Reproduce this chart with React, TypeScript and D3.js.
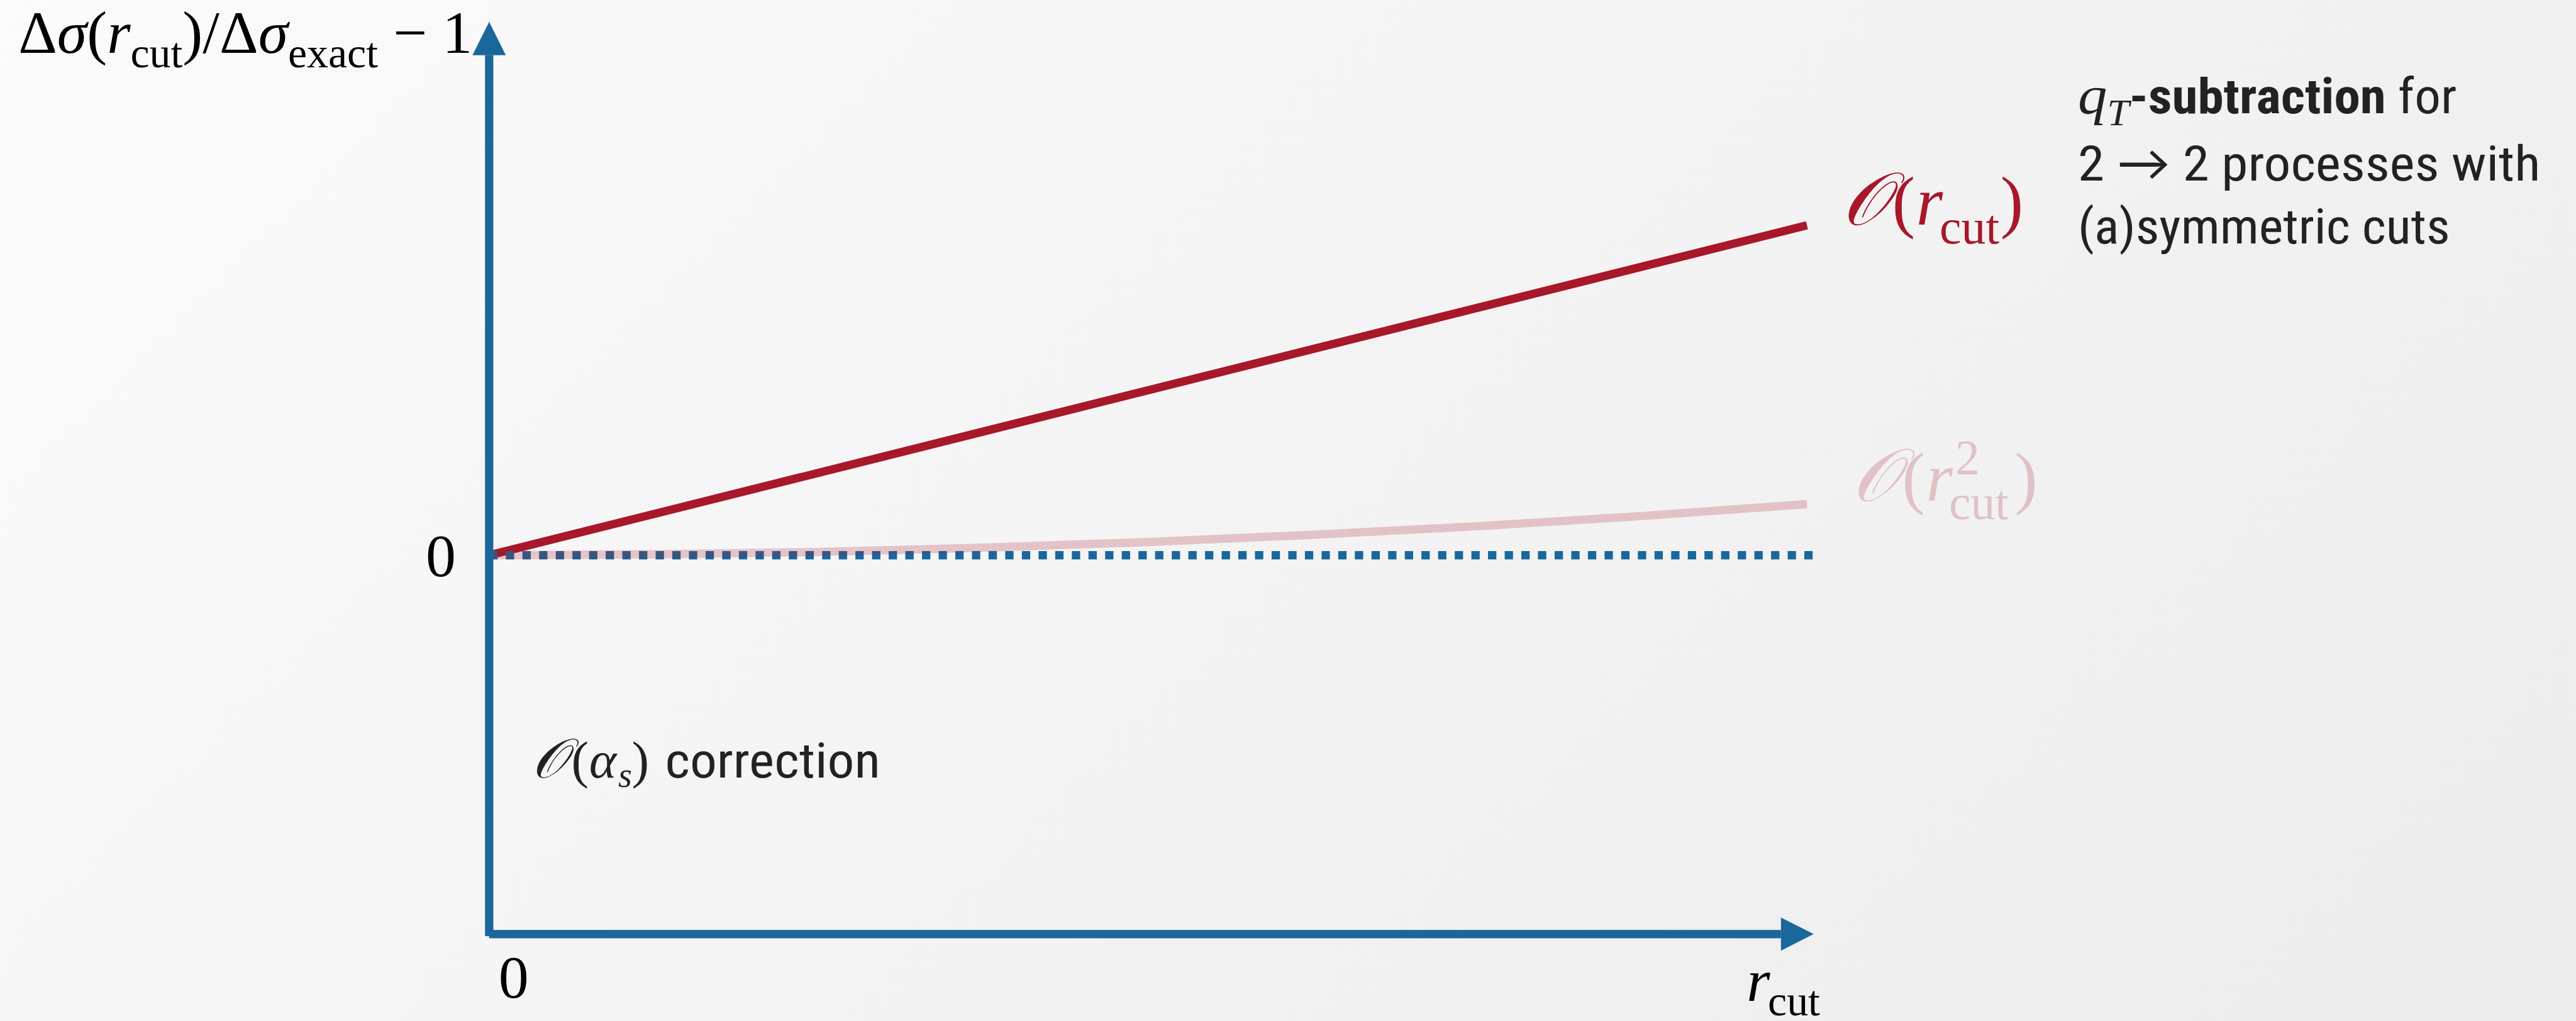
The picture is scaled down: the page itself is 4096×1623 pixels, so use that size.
import React from "react";
import * as d3 from "d3";

// ---- data ----
const rLinear = [0, 1];
const linearValues = [0, 1]; // O(r_cut) correction, normalised to its end value
const rQuad = [0, 0.125, 0.25, 0.375, 0.5, 0.625, 0.75, 0.875, 1];
const quadValues = [0, 0.003, 0.01, 0.023, 0.04, 0.062, 0.088, 0.119, 0.155];
const rBaseline = [0, 1.0045];
const baselineValues = [0, 0];
const yTickLabels = ["0"];
const xTickLabels = ["0"];
const infoLines = ["subtraction", " for", "2 → 2 processes with", "(a)symmetric cuts"];

const W = 4951;
const H = 1962;
const BLUE = "#1a679b";
const RED = "#a8172a";
const TXT = "#222222";
const SERIF = "'Liberation Serif', 'Times New Roman', serif";
const SANS = "'Liberation Sans Narrow', 'Roboto Condensed', Lato, 'Open Sans', sans-serif";
const SCRIPT = "'DejaVu Serif', 'DejaVu Sans', 'Noto Sans', serif";

export default function App() {
  const x = d3.scaleLinear().domain([0, 1]).range([940, 3473]);
  const y = d3.scaleLinear().domain([0, 1]).range([1067, 433]);
  const line = d3
    .line<[number, number]>()
    .x((d) => x(d[0]))
    .y((d) => y(d[1]));
  const quadLine = d3
    .line<[number, number]>()
    .x((d) => x(d[0]))
    .y((d) => y(d[1]))
    .curve(d3.curveMonotoneX);

  const redPath = line(rLinear.map((r, i) => [r, linearValues[i]]));
  const pinkPath = quadLine(rQuad.map((r, i) => [r, quadValues[i]]));
  const basePath = line(rBaseline.map((r, i) => [r, baselineValues[i]]));

  const x0 = x(0);
  const yAxisTop = 42;
  const xAxisY = 1795;
  const xAxisEnd = 3486;

  return (
    <svg
      width={4096}
      height={1623}
      viewBox={`0 0 ${W} ${H}`}
      style={{ position: "absolute", left: 0, top: 0, display: "block" }}
    >
      <defs>
        <linearGradient id="bg" gradientUnits="userSpaceOnUse" x1={0} y1={0} x2={3500} y2={3500}>
          <stop offset="0" stopColor="#fbfbfb" />
          <stop offset="1" stopColor="#ececec" />
        </linearGradient>
      </defs>
      <rect x={0} y={0} width={W} height={H} fill="url(#bg)" />

      {/* series */}
      <path d={redPath ?? ""} fill="none" stroke={RED} strokeWidth={16} />
      <path d={basePath ?? ""} fill="none" stroke={BLUE} strokeWidth={16} strokeDasharray="16 16" />
      <path d={pinkPath ?? ""} fill="none" stroke={RED} strokeOpacity={0.22} strokeWidth={16} />

      {/* axes */}
      <rect x={x0 - 8} y={106} width={16} height={xAxisY + 4 - 106} fill={BLUE} />
      <path d={`M${x0},${yAxisTop} L${x0 - 32},106 L${x0 + 32},106 Z`} fill={BLUE} />
      <rect x={x0} y={xAxisY - 8} width={3423 - x0} height={16} fill={BLUE} />
      <path d={`M${xAxisEnd},${xAxisY} L3423,${xAxisY - 32} L3423,${xAxisY + 32} Z`} fill={BLUE} />

      {/* tick labels */}
      <text x={876} y={1107} fontFamily={SERIF} fontSize={116} textAnchor="end" fill="#000">
        {yTickLabels[0]}
      </text>
      <text x={987} y={1917} fontFamily={SERIF} fontSize={116} textAnchor="middle" fill="#000">
        {xTickLabels[0]}
      </text>

      {/* y axis title */}
      <text x={35} y={101} fontFamily={SERIF} fontSize={116} fill="#000">
        <tspan>Δ</tspan>
        <tspan fontStyle="italic">σ</tspan>
        <tspan>(</tspan>
        <tspan fontStyle="italic">r</tspan>
        <tspan fontSize={82} dy={28}>cut</tspan>
        <tspan dy={-28}>)/Δ</tspan>
        <tspan fontStyle="italic">σ</tspan>
        <tspan fontSize={82} dy={28}>exact</tspan>
        <tspan dy={-28}> − 1</tspan>
      </text>

      {/* x axis title */}
      <text y={1923} fontFamily={SERIF} fontSize={116} fill="#000">
        <tspan x={3357} fontStyle="italic">r</tspan>
        <tspan x={3398} y={1951} fontSize={82}>cut</tspan>
      </text>

      {/* O(r_cut) label */}
      <g fill={RED}>
        <text x={3540} y={432} fontFamily={SCRIPT} fontSize={142} fontStyle="italic">𝒪</text>
        <text y={432} fontFamily={SERIF} fontSize={132}>
          <tspan x={3637}>(</tspan>
          <tspan x={3683} fontStyle="italic">r</tspan>
          <tspan x={3728} y={468} fontSize={94}>cut</tspan>
          <tspan dx={2} y={432}>)</tspan>
        </text>
      </g>

      {/* O(r_cut^2) label */}
      <g fill={RED} fillOpacity={0.22}>
        <text x={3560} y={962} fontFamily={SCRIPT} fontSize={142} fontStyle="italic">𝒪</text>
        <text y={962} fontFamily={SERIF} fontSize={132}>
          <tspan x={3656}>(</tspan>
          <tspan x={3702} fontStyle="italic">r</tspan>
          <tspan x={3758} y={910} fontSize={94}>2</tspan>
          <tspan x={3746} y={997} fontSize={94}>cut</tspan>
          <tspan x={3872} y={962}>)</tspan>
        </text>
      </g>

      {/* info text */}
      <g fill={TXT}>
        <text x={3994} y={218} fontSize={95} textLength={728} lengthAdjust="spacingAndGlyphs">
          <tspan fontFamily={SERIF} fontStyle="italic" fontSize={106}>q</tspan>
          <tspan fontFamily={SERIF} fontStyle="italic" fontSize={72} dy={22}>T</tspan>
          <tspan fontFamily={SANS} fontWeight="bold" dy={-22}>-{infoLines[0]}</tspan>
          <tspan fontFamily={SANS}>{infoLines[1]}</tspan>
        </text>
        <text x={3994} y={347} fontSize={95} fontFamily={SANS} textLength={889} lengthAdjust="spacingAndGlyphs">
          {infoLines[2]}
        </text>
        <text x={3994} y={468} fontSize={95} fontFamily={SANS} textLength={715} lengthAdjust="spacingAndGlyphs">
          {infoLines[3]}
        </text>
      </g>

      {/* O(alpha_s) correction */}
      <g fill={TXT}>
        <text x={1022} y={1494} fontFamily={SCRIPT} fontSize={106} fontStyle="italic">𝒪</text>
        <text y={1494} fontFamily={SERIF} fontSize={100}>
          <tspan x={1098}>(</tspan>
          <tspan x={1132} fontStyle="italic">α</tspan>
          <tspan x={1188} y={1512} fontStyle="italic" fontSize={68}>s</tspan>
          <tspan x={1214} y={1494}>)</tspan>
        </text>
        <text x={1278} y={1494} fontFamily={SANS} fontSize={95} textLength={414} lengthAdjust="spacingAndGlyphs">
          correction
        </text>
      </g>
    </svg>
  );
}
